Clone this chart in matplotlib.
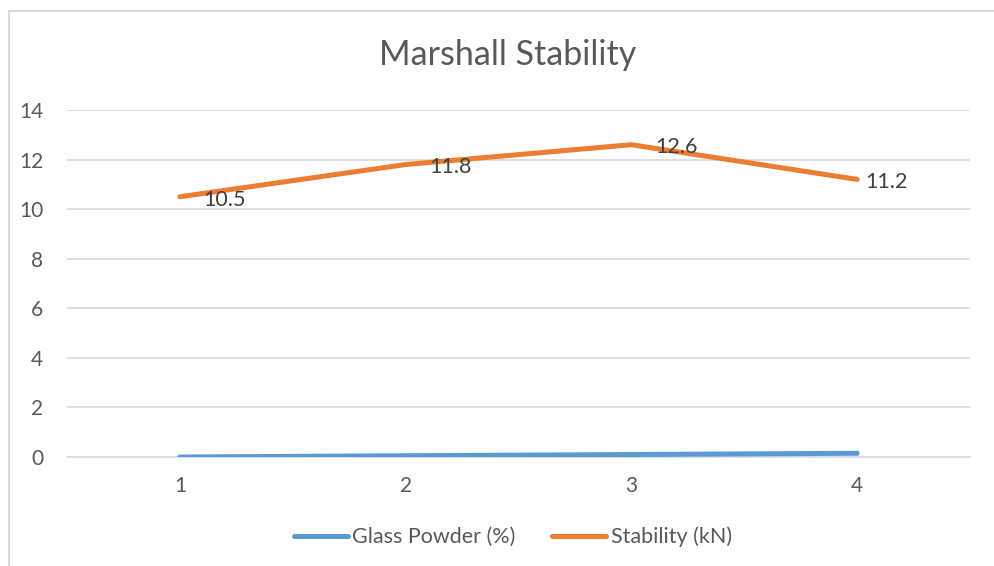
import matplotlib

matplotlib.use("Agg")
import matplotlib.pyplot as plt
from matplotlib.patches import Rectangle

# chart data
categories = ["1", "2", "3", "4"]
glass_powder = [0.0, 0.05, 0.1, 0.15]
stability = [10.5, 11.8, 12.6, 11.2]
y_ticks = [0, 2, 4, 6, 8, 10, 12, 14]

text_color = "#595959"
grid_color = "#D9D9D9"
blue = "#5B9BD5"
orange = "#ED7D31"

plt.rcParams['font.family'] = ['Lato', 'DejaVu Sans']

W, H = 995, 566
fig = plt.figure(figsize=(W / 100, H / 100), dpi=100)

# outer chart border (only left and top are visible in the crop)
fig.patches.append(Rectangle((8.5 / W, -1), 2, 2 - 10.5 / H, transform=fig.transFigure,
                             fill=False, edgecolor=grid_color, linewidth=1.5))

# plot area in pixels: x 67..970, y 110..457
ax = fig.add_axes([67 / W, 1 - 457 / H, (970 - 67) / W, (457 - 110) / H])

x = list(range(len(categories)))
ax.plot(x, glass_powder, color=blue, linewidth=3.6, solid_capstyle='round',
        label="Glass Powder (%)", zorder=3)
ax.plot(x, stability, color=orange, linewidth=3.6, solid_capstyle='round',
        label="Stability (kN)", zorder=3)

label_offsets = [17, 17, 17, 6]
for xi, v, dx in zip(x, stability, label_offsets):
    ax.annotate(f"{v}", (xi, v), xytext=(dx, -2), textcoords='offset points',
                ha='left', va='center', fontsize=15.5, color="#404040", zorder=4)

ax.set_xlim(-0.5, len(categories) - 0.5)
ax.set_ylim(0, 14)
ax.set_xticks(x)
ax.set_xticklabels(categories)
ax.set_yticks(y_ticks)
ax.grid(axis='y', color=grid_color, linewidth=1.2)
ax.set_axisbelow(True)
for s in ax.spines.values():
    s.set_visible(False)
ax.spines['bottom'].set_visible(True)
ax.spines['bottom'].set_color(grid_color)
ax.spines['bottom'].set_linewidth(1.2)
ax.tick_params(length=0, labelsize=15, colors=text_color)
ax.tick_params(axis='x', pad=14)
ax.tick_params(axis='y', pad=17)

fig.text(508 / W, 1 - 55 / H, "Marshall Stability", ha='center', va='center',
         fontsize=24.5, color=text_color)

leg = fig.legend(loc='center', bbox_to_anchor=(513 / W, 1 - 537 / H), ncol=2,
                 frameon=False, fontsize=15.5, handlelength=2.5, columnspacing=1.7,
                 handletextpad=0.2)
for t in leg.get_texts():
    t.set_color(text_color)

fig.savefig("out.png", dpi=100)
plt.close(fig)
